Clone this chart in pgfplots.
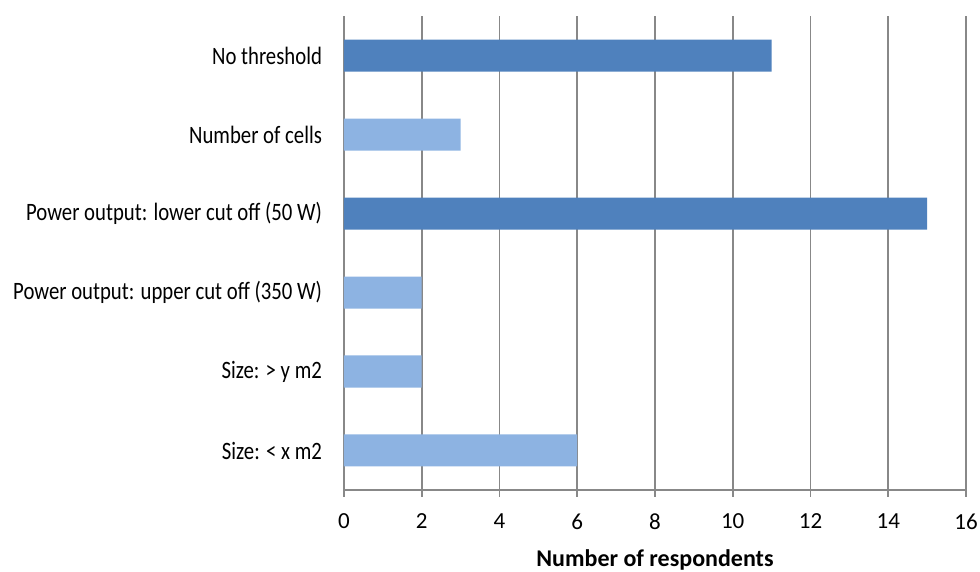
\documentclass[border=0pt]{standalone}
\usepackage{fontspec}
\setmainfont{Carlito}
\newfontfamily\catfont[FakeStretch=0.83]{Carlito}
\usepackage{pgfplots}
\pgfplotsset{compat=1.18}
\definecolor{darkbar}{HTML}{4F81BD}
\definecolor{lightbar}{HTML}{8DB3E2}
\definecolor{axgray}{HTML}{888888}
\begin{document}
\begin{tikzpicture}
\begin{axis}[
  name=ax,
  scale only axis,
  width=311pt, height=237pt,
  xbar, bar width=16pt,
  xmin=0, xmax=16,
  ymin=-0.5, ymax=5.5,
  axis x line*=bottom,
  axis y line*=left,
  axis line style={axgray, line width=0.8pt},
  xtick={0,2,...,16},
  xmajorgrids,
  grid style={axgray, line width=0.8pt},
  tick align=outside,
  x tick style={axgray, line width=0.8pt},
  major tick length=3.5pt,
  ytick={0,...,5},
  yticklabels={Size: < x m2, Size: > y m2, Power output: upper cut off (350 W), Power output: lower cut off (50 W), Number of cells, No threshold},
  y tick style={draw=none},
  minor ytick={-0.5,0.5,...,5.5},
  minor y tick style={axgray, line width=0.8pt},
  minor tick length=3.5pt,
  yticklabel style={font=\catfont\fontsize{12.5}{14}\selectfont, anchor=east, xshift=-4pt},
  xticklabel style={font=\fontsize{11.5}{13}\selectfont, yshift=-5pt},
  /pgf/number format/assume math mode=true,
  xlabel={\textbf{Number of respondents}},
  xlabel style={font=\fontsize{12}{14}\selectfont, yshift=-3pt},
  clip=false,
]
\addplot[fill=darkbar, draw=none, bar shift=0pt] coordinates {(11,5) (15,3)};
\addplot[fill=lightbar, draw=none, bar shift=0pt] coordinates {(3,4) (2,2) (2,1) (6,0)};
\end{axis}
\pgfresetboundingbox
\path (ax.south west) ++(-172pt,-41pt) rectangle ++(490pt,286pt);
\end{tikzpicture}
\end{document}
